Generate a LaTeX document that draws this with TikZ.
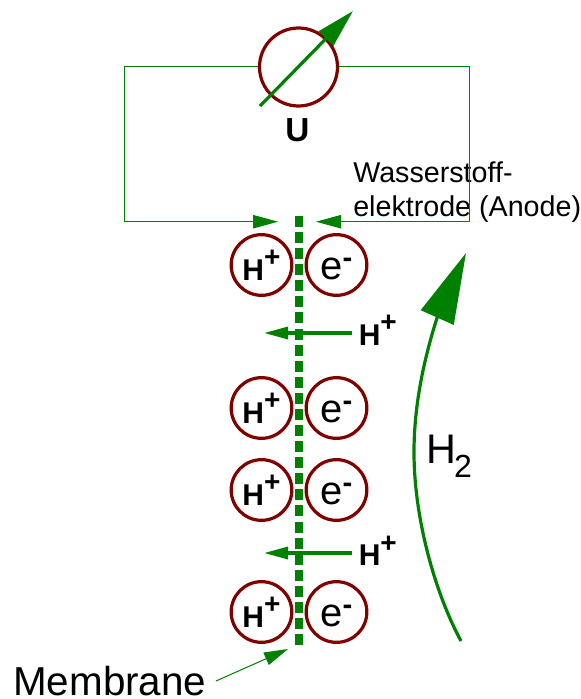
\documentclass[tikz,border=0pt]{standalone}
\usepackage{fontspec}
\setmainfont{Liberation Sans}
\usetikzlibrary{arrows.meta}
\definecolor{wire}{RGB}{0,128,0}
\definecolor{ring}{RGB}{128,0,0}
\newcommand{\protonlabel}{H\raisebox{10pt}{\fontsize{21}{21}\selectfont\bfseries +}}
\newcommand{\electronlabel}{e\raisebox{9pt}{\fontsize{22}{22}\selectfont\bfseries -}}
\newcommand{\sinklabel}[2]{\raisebox{#1}[0pt][0pt]{#2}}
\tikzset{
    ion/.style={draw=ring,line width=2.4pt,circle,minimum size=45.5pt,inner sep=0pt},
    proton/.style={ion,font=\fontsize{22.5}{25}\selectfont\bfseries},
    electron/.style={ion,font=\fontsize{30}{32}\selectfont},
    free/.style={anchor=base west,inner sep=0pt,font=\fontsize{22.5}{25}\selectfont\bfseries},
    wirethin/.style={draw=wire,line width=0.75pt},
    thinhead/.style={-{Triangle[length=18.75pt,width=10pt]}},
    flow/.style={draw=wire,line width=2.4pt,-{Triangle[length=18pt,width=9pt]}}
}
\begin{document}
\begin{tikzpicture}[x=0.75pt,y=-0.75pt]
        \useasboundingbox (0,0) rectangle (581,699);
        %%%%%%%%%% Nodes %%%%%%%%%%
        \node (meter) at (298.5,67) [draw=ring,line width=2.4pt,circle,minimum size=58.5pt,inner sep=0pt] {};
        \node (Ulabel) at (297.5,141.5) [anchor=base,font=\fontsize{25}{30}\selectfont\bfseries,inner sep=0pt] {U};
        \node (anode) at (353,182) [anchor=base west,inner sep=0pt,font=\fontsize{21.5}{25.5}\selectfont] {Wasserstoff-};
        \node (anodeb) at (353,216) [anchor=base west,inner sep=0pt,font=\fontsize{21.5}{25.5}\selectfont] {elektrode (Anode)};

        \node (pa) at (261.5,265) [proton] {\sinklabel{-11.25pt}{\protonlabel}};
        \node (ea) at (336.5,265) [electron] {\sinklabel{-10.5pt}{\electronlabel}};
        \node (pb) at (261.5,408) [proton] {\sinklabel{-11.25pt}{\protonlabel}};
        \node (eb) at (336.5,408) [electron] {\sinklabel{-10.5pt}{\electronlabel}};
        \node (pc) at (261.5,490) [proton] {\sinklabel{-11.25pt}{\protonlabel}};
        \node (ec) at (336.5,490) [electron] {\sinklabel{-10.5pt}{\electronlabel}};
        \node (pd) at (261.5,612) [proton] {\sinklabel{-11.25pt}{\protonlabel}};
        \node (ed) at (336.5,612) [electron] {\sinklabel{-10.5pt}{\electronlabel}};

        \node (freea) at (358.5,345) [free] {\protonlabel};
        \node (freeb) at (358.5,565.7) [free] {\protonlabel};
        \node (gas) at (426,463) [anchor=base west,inner sep=0pt,font=\fontsize{31}{36}\selectfont] {H\kern-1.5pt\raisebox{-11pt}{\fontsize{24}{26}\selectfont 2}};
        \node (memlabel) at (13,695) [anchor=base west,inner sep=0pt,font=\fontsize{30.3}{36}\selectfont] {Membrane};

        \coordinate (cornerL) at (124,221.7);
        \coordinate (cornerR) at (469.7,221.7);
        \coordinate (tipL) at (278,221.7);
        \coordinate (tipR) at (316,221.7);
        \coordinate (memtop) at (298.5,216);
        \coordinate (membot) at (298.5,645);
        \coordinate (needleS) at (260,106);
        \coordinate (needleE) at (353,11);
        \coordinate (taila) at (352,333);
        \coordinate (tipa) at (264,333);
        \coordinate (tailb) at (352,553);
        \coordinate (tipb) at (264,553);
        \coordinate (tailM) at (216,681);
        \coordinate (tipM) at (288,649);
        \coordinate (gasS) at (461,641);
        \coordinate (gasM) at (414,452);
        \coordinate (gasH) at (437,318);
        \coordinate (gasE) at (466,253);

        %%%%%%%%% Arrows %%%%%%%%%
        \draw[wirethin,thinhead] (meter.west) -| (cornerL) -- (tipL);
        \draw[wirethin,thinhead] (meter.east) -| (cornerR) -- (tipR);
        \draw[draw=wire,line width=6pt,dash pattern=on 8.25pt off 3.81pt] (memtop) -- (membot);
        \draw[draw=wire,line width=2.4pt,-{Triangle[length=29pt,width=15pt]}] (needleS) -- (needleE);
        \draw[flow] (taila) -- (tipa);
        \draw[flow] (tailb) -- (tipb);
        \draw[wirethin,-{Triangle[length=18pt,width=10pt]}] (tailM) -- (tipM);
        \draw[draw=wire,line width=2.4pt,-{Triangle[length=53pt,width=26.5pt]}] (gasS) .. controls (436,595) and (414,520) .. (gasM) .. controls (414,410) and (422,365) .. (gasH) -- (gasE);
    \end{tikzpicture}
\end{document}
